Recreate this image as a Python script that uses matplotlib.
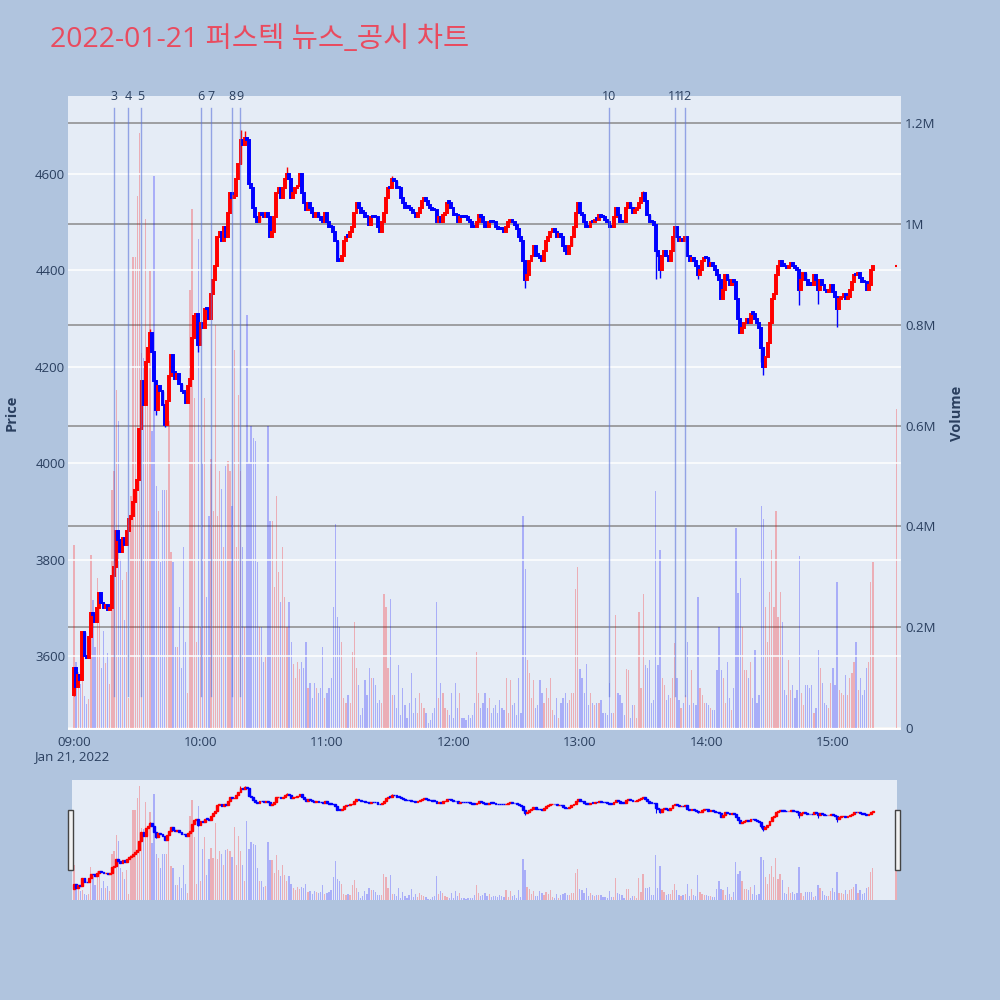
import matplotlib
matplotlib.use("Agg")
import matplotlib.pyplot as plt
from matplotlib.patches import Rectangle

plt.rcParams['font.family'] = ['Open Sans', 'Noto Sans CJK KR', 'DejaVu Sans']

title = "2022-01-21 퍼스텍 뉴스_공시 차트"

# 1-minute closes from 09:00 (minute 0) to 15:19 (minute 379)
first_open = 3520
closes = [
    3575, 3535, 3560, 3550, 3650, 3600, 3595, 3640, 3690, 3685,
    3670, 3700, 3730, 3710, 3700, 3705, 3695, 3700, 3765, 3785,
    3860, 3840, 3815, 3845, 3830, 3860, 3885, 3890, 3920, 3945,
    3965, 4070, 4170, 4120, 4210, 4240, 4270, 4230, 4170, 4110,
    4160, 4150, 4120, 4080, 4130, 4180, 4225, 4190, 4175, 4185,
    4165, 4150, 4145, 4125, 4160, 4175, 4260, 4305, 4310, 4245,
    4290, 4280, 4320, 4320, 4300, 4350, 4380, 4410, 4470, 4480,
    4460, 4490, 4470, 4520, 4560, 4550, 4555, 4590, 4620, 4670,
    4660, 4675, 4670, 4580, 4570, 4530, 4510, 4500, 4520, 4515,
    4510, 4520, 4510, 4470, 4480, 4510, 4560, 4570, 4550, 4570,
    4590, 4600, 4590, 4550, 4560, 4570, 4575, 4600, 4560, 4540,
    4525, 4540, 4530, 4520, 4510, 4520, 4510, 4505, 4500, 4520,
    4500, 4490, 4490, 4480, 4460, 4420, 4420, 4430, 4460, 4470,
    4470, 4480, 4490, 4520, 4540, 4530, 4520, 4520, 4510, 4510,
    4495, 4510, 4510, 4510, 4490, 4480, 4500, 4520, 4550, 4570,
    4570, 4590, 4585, 4570, 4570, 4550, 4540, 4530, 4530, 4530,
    4525, 4520, 4510, 4520, 4530, 4545, 4550, 4545, 4535, 4530,
    4525, 4525, 4500, 4510, 4500, 4515, 4520, 4540, 4540, 4530,
    4515, 4515, 4500, 4510, 4510, 4510, 4510, 4505, 4500, 4490,
    4490, 4500, 4515, 4510, 4500, 4490, 4490, 4500, 4500, 4500,
    4490, 4485, 4485, 4485, 4480, 4490, 4500, 4505, 4500, 4495,
    4485, 4470, 4460, 4420, 4380, 4390, 4420, 4430, 4450, 4430,
    4430, 4425, 4420, 4440, 4460, 4470, 4480, 4485, 4480, 4470,
    4475, 4470, 4450, 4440, 4435, 4450, 4470, 4490, 4520, 4540,
    4520, 4515, 4500, 4490, 4490, 4500, 4500, 4505, 4505, 4515,
    4510, 4510, 4505, 4500, 4490, 4490, 4510, 4530, 4515, 4500,
    4500, 4500, 4530, 4540, 4530, 4520, 4525, 4530, 4540, 4550,
    4560, 4545, 4515, 4500, 4500, 4495, 4440, 4430, 4400, 4430,
    4440, 4430, 4420, 4440, 4470, 4490, 4470, 4460, 4465, 4460,
    4470, 4430, 4420, 4425, 4420, 4410, 4390, 4400, 4420, 4425,
    4425, 4410, 4415, 4410, 4400, 4390, 4380, 4340, 4360, 4390,
    4380, 4370, 4380, 4375, 4340, 4300, 4270, 4280, 4290, 4300,
    4290, 4310, 4310, 4300, 4290, 4280, 4240, 4200, 4220, 4250,
    4290, 4340, 4350, 4390, 4410, 4420, 4410, 4410, 4405, 4410,
    4415, 4410, 4405, 4400, 4360, 4380, 4395, 4380, 4370, 4370,
    4370, 4390, 4380, 4360, 4380, 4370, 4360, 4355, 4360, 4370,
    4355, 4345, 4320, 4340, 4345, 4350, 4340, 4345, 4360, 4375,
    4390, 4390, 4395, 4385, 4375, 4375, 4360, 4370, 4400, 4410,
]

# notable wicks (minute: price)
low_wicks = {0: 3518, 39: 4100, 43: 4075, 59: 4230, 214: 4364, 276: 4382,
             278: 4385, 296: 4382, 326: 4210, 327: 4182, 344: 4328,
             362: 4282, 353: 4330}
high_wicks = {36: 4278, 79: 4692, 81: 4690, 101: 4615, 151: 4596, 270: 4565}

# volume in thousands of shares
volumes_k = [
    363, 130, 112, 88, 100, 63, 47, 57, 343, 254,
    160, 298, 266, 120, 193, 128, 149, 88, 472, 509,
    670, 610, 335, 294, 215, 310, 59, 460, 934, 934,
    1055, 1180, 744, 735, 1010, 735, 906, 590, 1096, 480,
    430, 330, 472, 472, 472, 610, 350, 330, 160, 160,
    240, 120, 360, 170, 70, 870, 1030, 655, 170, 970,
    200, 525, 655, 260, 420, 533, 430, 800, 420, 510,
    475, 360, 520, 530, 510, 440, 750, 360, 660, 510,
    360, 200, 820, 525, 600, 575, 570, 330, 200, 200,
    130, 140, 600, 410, 410, 280, 460, 310, 250, 360,
    260, 200, 250, 170, 126, 100, 130, 118, 130, 120,
    170, 80, 90, 60, 90, 80, 70, 80, 160, 60,
    70, 80, 100, 240, 405, 220, 200, 170, 60, 50,
    65, 50, 150, 210, 120, 85, 25, 40, 95, 65,
    120, 100, 100, 85, 50, 55, 50, 265, 240, 120,
    255, 65, 65, 40, 125, 25, 80, 45, 20, 50,
    110, 30, 60, 30, 70, 50, 40, 30, 10, 15,
    30, 40, 250, 60, 90, 70, 40, 35, 25, 70,
    20, 90, 40, 70, 20, 20, 15, 25, 20, 25,
    50, 150, 70, 40, 50, 70, 40, 60, 30, 40,
    45, 30, 55, 40, 35, 100, 30, 95, 45, 50,
    25, 100, 30, 420, 315, 135, 110, 60, 95, 40,
    45, 95, 70, 50, 80, 60, 100, 35, 25, 60,
    20, 50, 60, 70, 50, 55, 70, 70, 276, 319,
    118, 100, 70, 126, 45, 70, 50, 45, 50, 50,
    55, 30, 30, 25, 90, 30, 30, 225, 70, 65,
    50, 25, 118, 115, 20, 45, 45, 20, 230, 80,
    265, 125, 120, 135, 50, 55, 470, 125, 353, 100,
    85, 55, 65, 60, 100, 169, 100, 55, 40, 50,
    65, 170, 45, 115, 50, 45, 260, 80, 65, 50,
    50, 45, 40, 35, 35, 115, 200, 115, 100, 50,
    130, 60, 35, 80, 397, 268, 297, 200, 115, 115,
    100, 130, 60, 155, 50, 65, 440, 415, 240, 170,
    270, 353, 240, 430, 220, 270, 210, 75, 65, 135,
    75, 85, 60, 75, 341, 70, 45, 85, 85, 80,
    85, 30, 40, 155, 120, 90, 50, 45, 40, 90,
    120, 85, 290, 75, 70, 65, 105, 65, 100, 110,
    130, 170, 75, 100, 65, 75, 120, 130, 290, 330,
]

# closing auction at 15:30
auction_minute = 390
auction_close = 4410
auction_volume_k = 633

# news / disclosure markers (minutes after 09:00)
news_labels = ['3', '4', '5', '6', '7', '8', '9', '10', '11', '12']
news_minutes = [19, 25.6, 31.8, 60.2, 65, 75, 78.7, 253.8, 285.1, 289.8]

hour_labels = ['09:00', '10:00', '11:00', '12:00', '13:00', '14:00', '15:00']
hour_minutes = [0, 60, 120, 180, 240, 300, 360]
price_ticks = [3600, 3800, 4000, 4200, 4400, 4600]
volume_ticks = [0, 200000, 400000, 600000, 800000, 1000000, 1200000]
volume_tick_labels = ['0', '0.2M', '0.4M', '0.6M', '0.8M', '1M', '1.2M']

RED = '#ff0000'
BLUE = '#0000ff'
BG = '#b0c4de'
PLOT_BG = '#e5ecf6'
TXT = '#2a3f5f'

minutes = list(range(len(closes)))
opens = [first_open] + closes[:-1]
highs = [max(o, c) for o, c in zip(opens, closes)]
lows = [min(o, c) for o, c in zip(opens, closes)]
for m, v in low_wicks.items():
    lows[m] = min(lows[m], v)
for m, v in high_wicks.items():
    highs[m] = max(highs[m], v)
colors = [RED if c > o else BLUE for o, c in zip(opens, closes)]
volumes = [v * 1000 for v in volumes_k]

# all bars incl. auction
all_x = minutes + [auction_minute]
all_vol = volumes + [auction_volume_k * 1000]
all_col = colors + [RED]


def draw_candles(axp, body_w, lw, wick_lw):
    bottoms = [min(o, c) for o, c in zip(opens, closes)]
    heights = [max(abs(c - o), 3) for o, c in zip(opens, closes)]
    axp.vlines(minutes, lows, highs, colors=colors, lw=wick_lw, zorder=3)
    axp.bar(minutes, heights, bottom=bottoms, width=body_w, color=colors,
            edgecolor=colors, linewidth=lw, zorder=4)
    axp.hlines([auction_close], auction_minute - 0.4, auction_minute + 0.4,
               colors=RED, lw=1.5, zorder=4)


fig = plt.figure(figsize=(10, 10), dpi=100, facecolor=BG)

# ---------------- main chart ----------------
ax = fig.add_axes([0.068, 0.27, 0.833, 0.634])
ax.set_facecolor(PLOT_BG)
ax.bar(all_x, all_vol, width=0.6, color=all_col, alpha=0.26, zorder=2)
ax.set_ylim(-4000, 1254000)
ax.set_xlim(-2.85, 392.3)
ax.set_axisbelow(True)
ax.grid(axis='y', color='#8a8a8a', lw=1.1, zorder=1)
ax.axhline(0, color='white', lw=2, zorder=1.5)
ax.set_xticks(hour_minutes)
ax.set_xticklabels(hour_labels)
for s in ax.spines.values():
    s.set_visible(False)

axp = ax.twinx()
axp.patch.set_visible(False)
for p in price_ticks:
    axp.axhline(p, color='white', lw=1.1, zorder=1)
draw_candles(axp, 0.9, 1.4, 1.0)
axp.set_ylim(3446.5, 4761.8)
for s in axp.spines.values():
    s.set_visible(False)

# twinx moves ticks, so set sides afterwards
ax.yaxis.tick_right()
ax.yaxis.set_label_position('right')
ax.set_yticks(volume_ticks)
ax.set_yticklabels(volume_tick_labels)
ax.set_ylabel('Volume', fontsize=10.5, color=TXT, fontweight='bold', labelpad=10)
ax.tick_params(axis='both', length=0, labelsize=9.5, labelcolor=TXT)
ax.tick_params(axis='x', pad=4)
ax.tick_params(axis='y', pad=3)

axp.yaxis.tick_left()
axp.yaxis.set_label_position('left')
axp.set_yticks(price_ticks)
axp.tick_params(axis='y', length=0, labelsize=9.5, labelcolor=TXT, pad=2)
axp.set_ylabel('Price', fontsize=10.5, color=TXT, fontweight='bold', labelpad=12)

for lab, m in zip(news_labels, news_minutes):
    axp.axvline(m, ymin=0.054, ymax=0.981, color='#5b73db', alpha=0.6, lw=1, zorder=5)
    axp.text(m, 1.0, lab, transform=axp.get_xaxis_transform(), ha='center',
             va='center', fontsize=9, color=TXT)

fig.text(0.072, 0.243, 'Jan 21, 2022', ha='center', va='center', fontsize=9.5,
         color=TXT)

fig.text(0.05, 0.96, title, ha='left', va='center', fontsize=20.5, color='#e94b5f')

# ---------------- range slider ----------------
axs = fig.add_axes([0.072, 0.10, 0.825, 0.12])
axs.set_facecolor(PLOT_BG)
axs.bar(all_x, all_vol, width=0.6, color=all_col, alpha=0.26)
axs.set_ylim(0, 1240000)
axs.set_xlim(-0.95, 390.5)
axs.set_xticks([])
axs.set_yticks([])
for s in axs.spines.values():
    s.set_visible(False)
axs2 = axs.twinx()
axs2.patch.set_visible(False)
draw_candles(axs2, 0.9, 1.0, 0.8)
axs2.set_ylim(3395, 4758)
axs2.set_yticks([])
for s in axs2.spines.values():
    s.set_visible(False)

for hx in (0.068, 0.895):
    fig.patches.append(Rectangle((hx, 0.13), 0.005, 0.06, transform=fig.transFigure,
                                 facecolor='#f2f2f2', edgecolor='#444444', lw=1))

fig.savefig('out.png', dpi=100, facecolor=BG)
